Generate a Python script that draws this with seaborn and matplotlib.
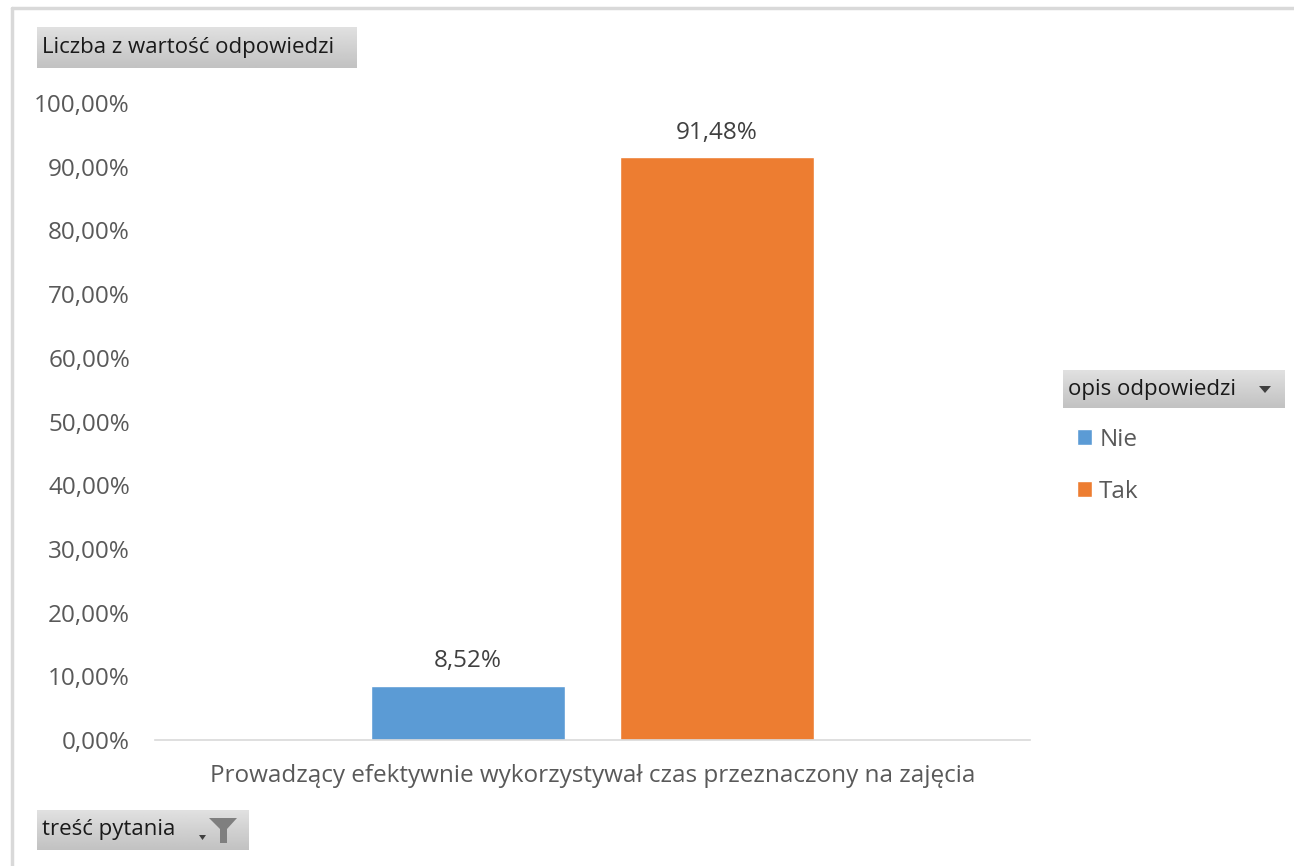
import matplotlib
matplotlib.use("Agg")
import matplotlib.pyplot as plt
import matplotlib.ticker as mticker
from matplotlib.lines import Line2D
from matplotlib.patches import Polygon
import numpy as np
import pandas as pd
import seaborn as sns

# --- data ---------------------------------------------------------------
pytanie = ["Prowadzący efektywnie wykorzystywał czas przeznaczony na zajęcia"]
opisy = ["Nie", "Tak"]
wartosci = [8.52, 91.48]
kolory = ["#5B9BD5", "#ED7D31"]

df = pd.DataFrame({
    "pytanie": pytanie * len(opisy),
    "opis": opisy,
    "wartosc": wartosci,
})

sns.set_theme(style="white")
plt.rcParams["font.family"] = ["Open Sans", "DejaVu Sans"]

W, H = 1294, 866
TXT = "#595959"
FS = 17.5


def fx(px):
    return px / W


def fy(py):
    return 1 - py / H


fig = plt.figure(figsize=(W / 100, H / 100), dpi=100)
ax = fig.add_axes([fx(155), fy(740), 875 / W, 637 / H])

sns.barplot(data=df, x="pytanie", y="wartosc", hue="opis",
            palette=kolory, width=0.569, gap=0.217, saturation=1,
            ax=ax)

ax.set_xlim(-0.5, 0.5)
ax.set_ylim(0, 100)
ax.set_yticks(range(0, 101, 10))
ax.yaxis.set_major_formatter(
    mticker.FuncFormatter(lambda v, p: f"{v:.2f}%".replace(".", ",")))
ax.tick_params(axis="y", labelsize=FS, labelcolor=TXT, length=0, pad=18)
ax.tick_params(axis="x", labelsize=FS, labelcolor=TXT, length=0, pad=17)
ax.set_xlabel("")
ax.set_ylabel("")
for s in ["top", "right", "left"]:
    ax.spines[s].set_visible(False)
ax.spines["bottom"].set_color("#d9d9d9")
ax.spines["bottom"].set_linewidth(1.2)

# data labels
for cont in ax.containers:
    ax.bar_label(cont, labels=[f"{v:.2f}%".replace(".", ",") for v in cont.datavalues],
                 padding=9, fontsize=FS, color="#404040")

# legend on the right
handles, labels = ax.get_legend_handles_labels()
ax.get_legend().remove()
fig.legend(handles, labels, loc="upper left",
           bbox_to_anchor=(fx(1055), fy(406)), frameon=False,
           fontsize=FS, labelcolor=TXT, handlelength=0.62, handleheight=0.62,
           handletextpad=0.3, labelspacing=1.15)


# pivot field buttons (gray gradient)
def button(x0, y0, x1, y1, text):
    bax = fig.add_axes([fx(x0), fy(y1), (x1 - x0) / W, (y1 - y0) / H])
    grad = np.linspace(0.88, 0.76, 50).reshape(-1, 1)
    bax.imshow(grad, cmap="gray", vmin=0, vmax=1, aspect="auto",
               extent=(0, 1, 0, 1), origin="upper")
    bax.set_axis_off()
    fig.text(fx(x0 + 5), fy((y0 + y1) / 2), text, fontsize=FS - 1.5,
             color="#1a1a1a", va="center", ha="left")


button(37, 27, 357, 68, "Liczba z wartość odpowiedzi")
button(1063, 370, 1285, 408, "opis odpowiedzi")
button(37, 810, 248, 850, "treść pytania")

# dropdown arrow in legend button
fig.add_artist(Polygon([(fx(1259), fy(386)), (fx(1271), fy(386)), (fx(1265), fy(393))],
                       closed=True, transform=fig.transFigure,
                       facecolor="#404040", edgecolor="none"))
# small arrow + filter icon in bottom button
fig.add_artist(Polygon([(fx(199), fy(835)), (fx(206), fy(835)), (fx(202.5), fy(840))],
                       closed=True, transform=fig.transFigure,
                       facecolor="#404040", edgecolor="none"))
fig.add_artist(Polygon([(fx(209), fy(818)), (fx(237), fy(818)), (fx(227), fy(829)),
                        (fx(227), fy(843)), (fx(220), fy(843)), (fx(220), fy(829))],
                       closed=True, transform=fig.transFigure,
                       facecolor="#7f7f7f", edgecolor="none"))

# chart frame lines (top and left)
fig.add_artist(Line2D([fx(12), 1], [fy(8), fy(8)],
                      transform=fig.transFigure, color="#d9d9d9", lw=2.5))
fig.add_artist(Line2D([fx(12), fx(12)], [0, fy(8)],
                      transform=fig.transFigure, color="#d9d9d9", lw=2.5))

fig.savefig("out.png", dpi=100)
